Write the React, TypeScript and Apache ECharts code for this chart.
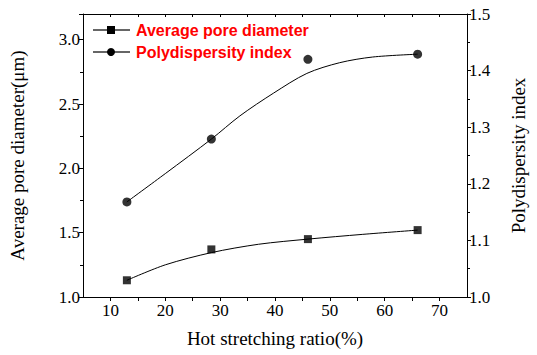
import React, { useEffect, useRef } from "react";
import * as echarts from "echarts";

const stretchX = [13, 28.4, 46, 66];
const poreDiameter = [1.13, 1.37, 1.45, 1.52];
const polyIndex = [1.168, 1.279, 1.42, 1.429];

// fitted curves
const poreFitX = [13, 20, 28.4, 37, 46, 56, 66];
const poreFitY = [1.13, 1.25, 1.345, 1.41, 1.45, 1.487, 1.52];
const polyFitX = [13, 20, 28.4, 33.6, 39.7, 45.8, 51.8, 57.8, 66];
const polyFitY = [1.168, 1.218, 1.279, 1.32, 1.36, 1.395, 1.414, 1.424, 1.429];

const legendNames = ["Average pore diameter", "Polydispersity index"];

const serif = "Liberation Serif";

export default function App() {
  const ref = useRef<HTMLDivElement>(null);
  useEffect(() => {
    document.body.style.margin = "0";
    if (!ref.current) return;
    const chart = echarts.init(ref.current, null, { renderer: "svg" });
    const axisLine = { show: true, lineStyle: { color: "#000", width: 1 } };
    const labelStyle = { color: "#000", fontFamily: serif, fontSize: 17 };
    const legendRow = (y: number, name: string, marker: any) => ({
      type: "group",
      children: [
        { type: "line", shape: { x1: 93, y1: y, x2: 130, y2: y }, style: { stroke: "#666", lineWidth: 2 } },
        marker,
        {
          type: "text",
          x: 136,
          y: y,
          style: {
            text: name,
            fill: "#ff0000",
            fontFamily: "Liberation Sans",
            fontWeight: "bold",
            fontSize: 16,
            verticalAlign: "middle",
          },
        },
      ],
    });
    chart.setOption({
      animation: false,
      backgroundColor: "#fff",
      textStyle: { fontFamily: serif },
      grid: { left: 82, right: 70, top: 14, bottom: 58 },
      xAxis: [
        {
          type: "value",
          min: 5,
          max: 75,
          interval: 5,
          position: "bottom",
          axisLine,
          axisTick: { show: true, inside: false, length: 4, lineStyle: { color: "#000" } },
          axisLabel: {
            ...labelStyle,
            margin: 5,
            showMinLabel: false,
            showMaxLabel: false,
            formatter: (v: number) => (Math.round(v) % 10 === 0 ? String(v) : ""),
          },
          splitLine: { show: false },
          name: "Hot stretching ratio(%)",
          nameLocation: "middle",
          nameGap: 32,
          nameTextStyle: { color: "#000", fontFamily: serif, fontSize: 19 },
        },
        {
          type: "value",
          min: 5,
          max: 75,
          interval: 5,
          position: "top",
          axisLine,
          axisTick: { show: true, inside: true, length: 3, lineStyle: { color: "#000" } },
          axisLabel: { show: false },
          splitLine: { show: false },
        },
      ],
      yAxis: [
        {
          type: "value",
          min: 1,
          max: 3.2,
          interval: 0.5,
          position: "left",
          axisLine,
          axisTick: { show: true, inside: false, length: 4, lineStyle: { color: "#000" } },
          minorTick: { show: true, splitNumber: 2, length: 3, lineStyle: { color: "#000" } },
          axisLabel: { ...labelStyle, margin: 3, showMaxLabel: false, formatter: (v: number) => v.toFixed(1) },
          splitLine: { show: false },
          name: "Average pore diameter(μm)",
          nameLocation: "middle",
          nameGap: 56,
          nameTextStyle: { color: "#000", fontFamily: serif, fontSize: 19 },
        },
        {
          type: "value",
          min: 1,
          max: 1.5,
          interval: 0.1,
          position: "right",
          axisLine,
          axisTick: { show: true, inside: false, length: 4, lineStyle: { color: "#000" } },
          minorTick: { show: true, splitNumber: 2, length: 3, lineStyle: { color: "#000" } },
          axisLabel: { ...labelStyle, margin: 2, formatter: (v: number) => v.toFixed(1) },
          splitLine: { show: false },
          name: "Polydispersity index",
          nameLocation: "middle",
          nameGap: 42,
          nameRotate: 90,
          nameTextStyle: { color: "#000", fontFamily: serif, fontSize: 19 },
        },
      ],
      series: [
        {
          type: "line",
          yAxisIndex: 0,
          data: poreFitX.map((x, i) => [x, poreFitY[i]]),
          smooth: 0.3,
          showSymbol: false,
          lineStyle: { color: "#000", width: 1 },
        },
        {
          type: "line",
          yAxisIndex: 1,
          data: polyFitX.map((x, i) => [x, polyFitY[i]]),
          smooth: 0.3,
          showSymbol: false,
          lineStyle: { color: "#000", width: 1 },
        },
        {
          name: legendNames[0],
          type: "scatter",
          yAxisIndex: 0,
          data: stretchX.map((x, i) => [x, poreDiameter[i]]),
          symbol: "rect",
          symbolSize: 8,
          itemStyle: { color: "#000" },
        },
        {
          name: legendNames[1],
          type: "scatter",
          yAxisIndex: 1,
          data: stretchX.map((x, i) => [x, polyIndex[i]]),
          symbol: "circle",
          symbolSize: 9,
          itemStyle: { color: "#000" },
        },
      ],
      graphic: [
        legendRow(30, legendNames[0], {
          type: "rect",
          shape: { x: 107, y: 26, width: 8, height: 8 },
          style: { fill: "#000" },
        }),
        legendRow(52, legendNames[1], {
          type: "circle",
          shape: { cx: 111, cy: 52, r: 4 },
          style: { fill: "#000" },
        }),
      ],
    });
    return () => chart.dispose();
  }, []);
  return <div ref={ref} style={{ width: 537, height: 355 }} />;
}
